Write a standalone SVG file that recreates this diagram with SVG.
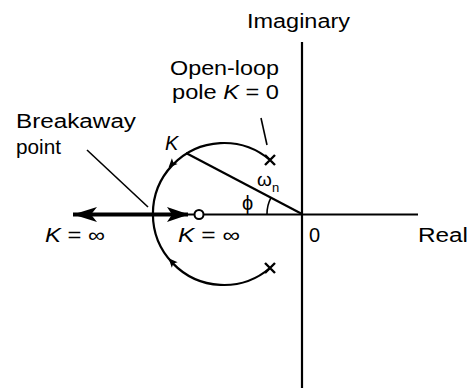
<svg xmlns="http://www.w3.org/2000/svg" width="469" height="391" viewBox="0 0 469 391">
<style>
text{font-family:"Liberation Sans",Arial,sans-serif;font-size:20px;fill:#000}
.it{font-style:italic}
.ln{stroke:#000;fill:none;stroke-width:2.2}
.thin{stroke:#000;fill:none;stroke-width:1.6}
</style>
<defs>
<polygon id="tri" points="5,0 -4,-4 -2,0 -4,4" fill="#000"/>
<g id="xm"><path d="M-5,-5L5,5M-5,5L5,-5" stroke="#000" stroke-width="2.4"/></g>
</defs>
<rect width="469" height="391" fill="#fff"/>
<g id="axes">
<path class="ln" d="M302,42V388"/>
<path class="ln" d="M188,214.5H418"/>
</g>
<g id="connectors">
<path d="M73,214.5H188" stroke="#000" stroke-width="4"/>
<polygon points="73,214.5 97,207 91,214.5 97,222" fill="#000"/>
<polygon points="189,214.5 167,207 172,214.5 167,222" fill="#000"/>
<path class="ln" d="M270,160A71,71 0 1 0 270,268"/>
<use href="#tri" transform="translate(172,164) rotate(134)"/>
<use href="#tri" transform="translate(172,262) rotate(-133)"/>
<path class="ln" d="M186,153L302,214"/>
<path class="thin" d="M267,214A35,35 0 0 1 271,197.7"/>
<path class="thin" d="M87,150L148,207"/>
<path class="thin" d="M261,118L267,145"/>
</g>
<g id="zero"><circle cx="199" cy="214.5" r="4.5" fill="#fff" stroke="#000" stroke-width="2"/></g>
<g id="pole-top"><use href="#xm" transform="translate(270,160)"/></g>
<g id="pole-bottom"><use href="#xm" transform="translate(270,268)"/></g>
<g id="label-imaginary"><text x="247" y="28" textLength="103" lengthAdjust="spacingAndGlyphs">Imaginary</text></g>
<g id="label-openloop">
<text x="170" y="75" textLength="109" lengthAdjust="spacingAndGlyphs">Open-loop</text>
<text x="172" y="99" textLength="107" lengthAdjust="spacingAndGlyphs">pole <tspan class="it">K</tspan> = 0</text>
</g>
<g id="label-breakaway">
<text x="16" y="128" textLength="120" lengthAdjust="spacingAndGlyphs">Breakaway</text>
<text x="16" y="154" textLength="45" lengthAdjust="spacingAndGlyphs">point</text>
</g>
<g id="label-K"><text class="it" x="165" y="150">K</text></g>
<g id="label-wn"><text x="257" y="186" style="font-size:19px">ω</text><text x="272" y="192" style="font-size:13px">n</text></g>
<g id="label-phi"><text x="242" y="210" style="font-size:20px">ϕ</text></g>
<g id="label-kinf-left"><text x="45" y="242" textLength="60" lengthAdjust="spacingAndGlyphs"><tspan class="it">K</tspan> = ∞</text></g>
<g id="label-kinf-right"><text x="178" y="242" textLength="62" lengthAdjust="spacingAndGlyphs"><tspan class="it">K</tspan> = ∞</text></g>
<g id="label-0"><text x="309" y="242">0</text></g>
<g id="label-real"><text x="418" y="242" textLength="50" lengthAdjust="spacingAndGlyphs">Real</text></g>
</svg>
